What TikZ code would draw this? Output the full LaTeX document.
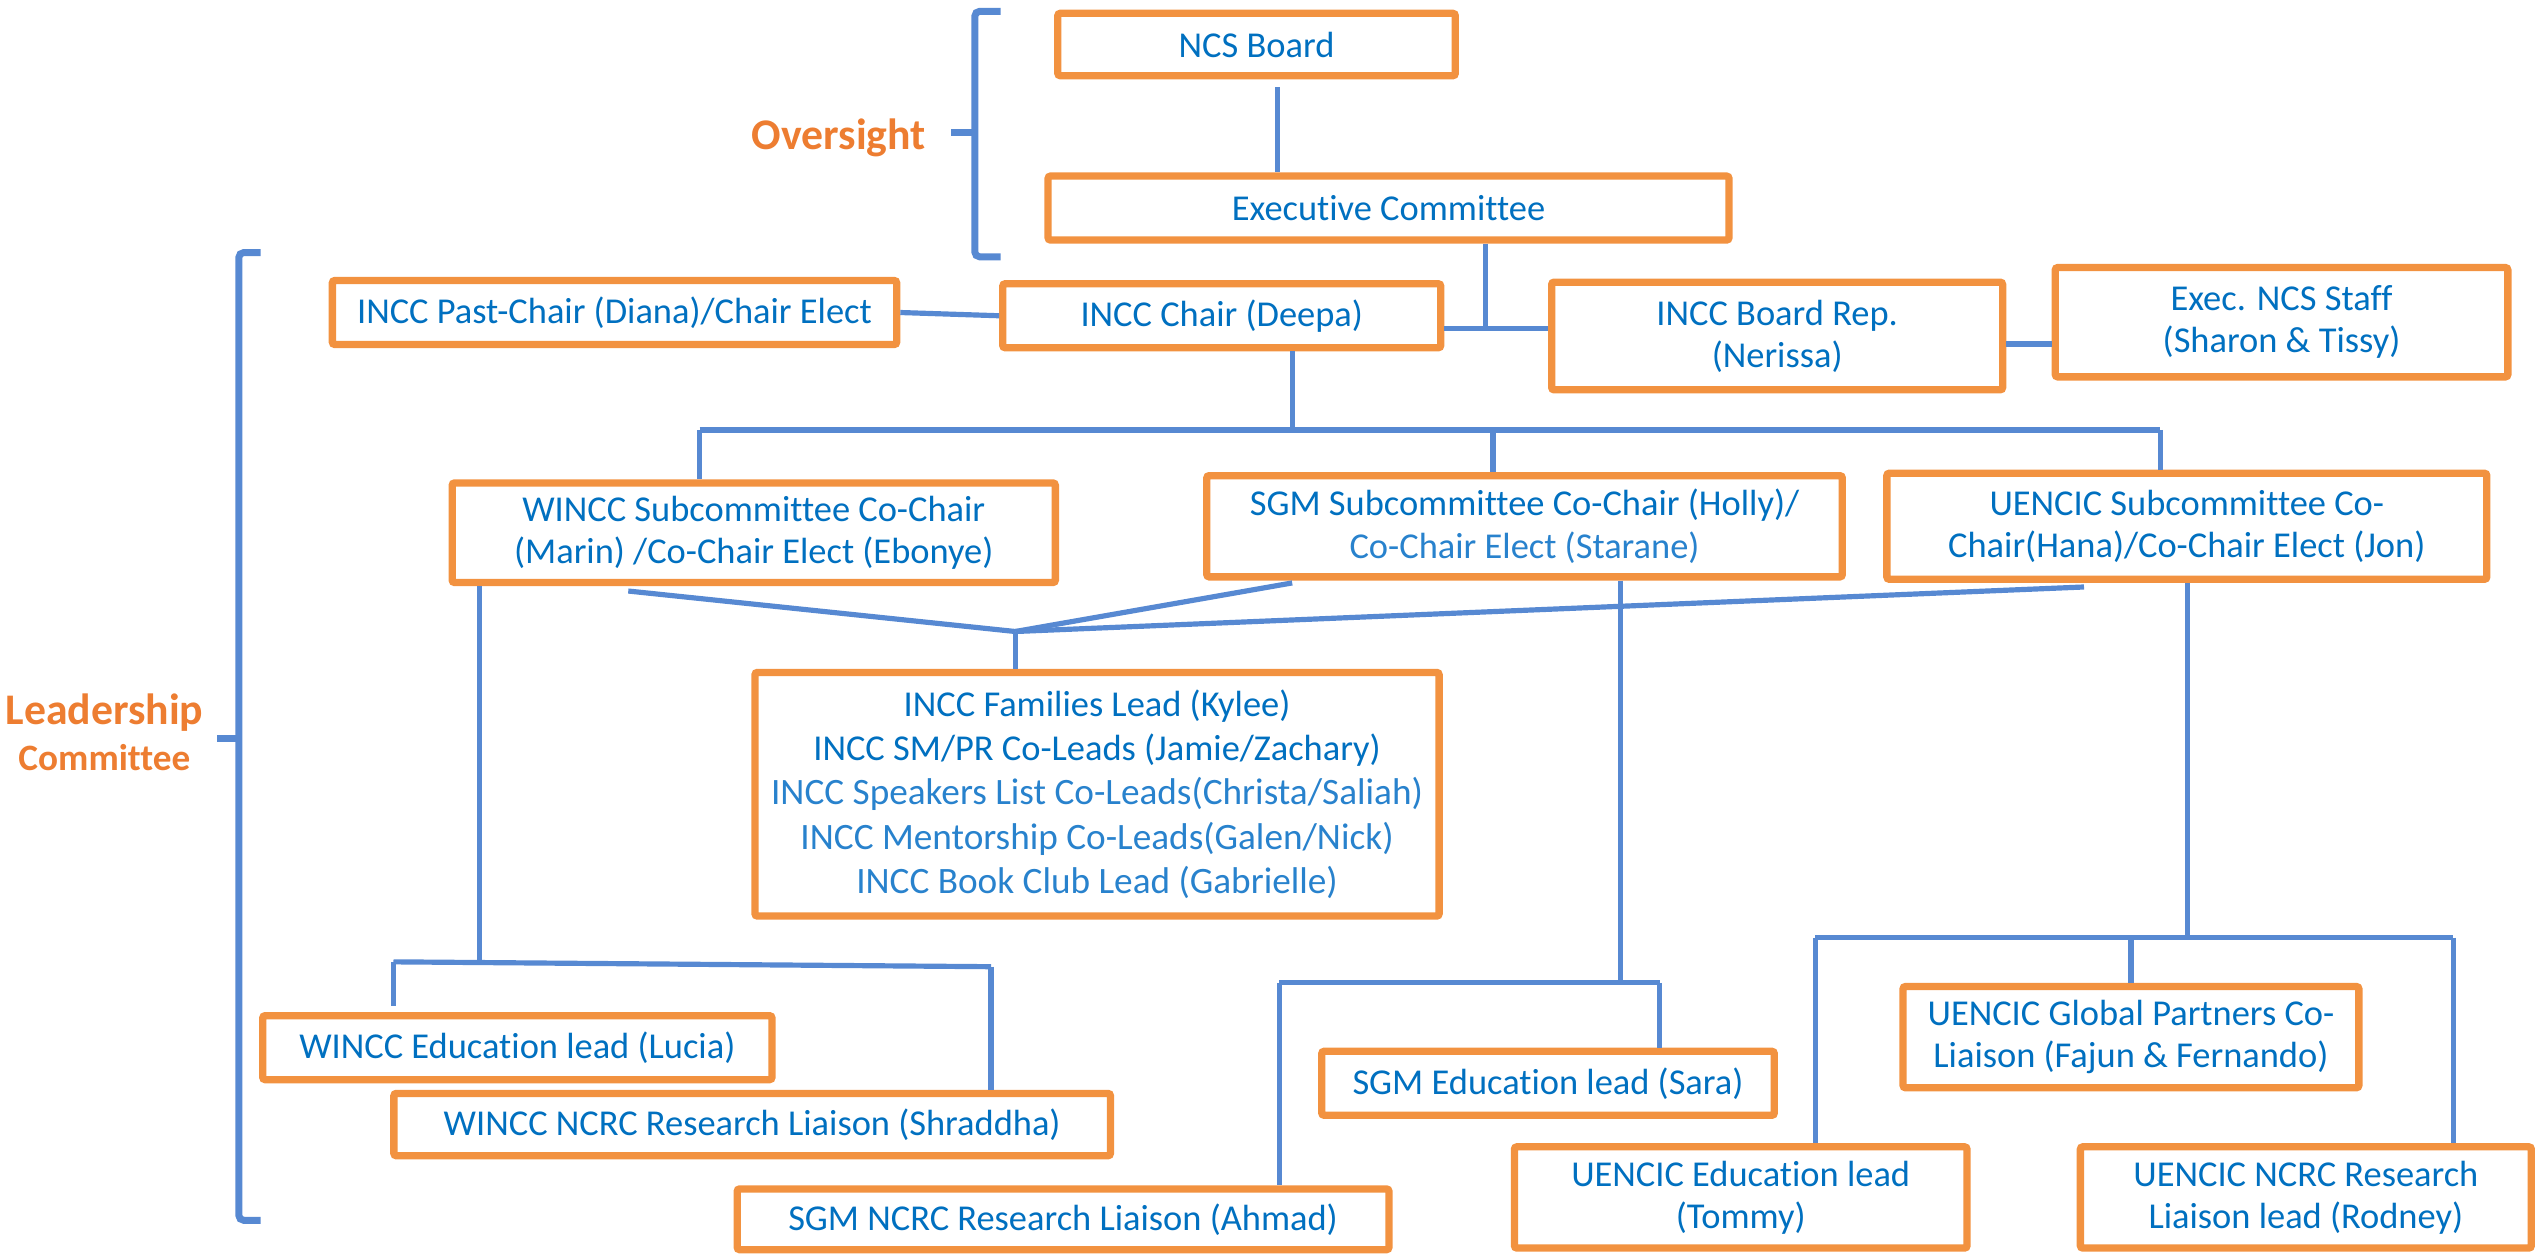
\documentclass[tikz,border=0pt]{standalone}
\usepackage{fontspec}
\setmainfont{Carlito}[Ligatures=NoCommon]
\definecolor{boxorange}{RGB}{242,146,64}
\definecolor{lineblue}{RGB}{87,137,210}
\definecolor{txtblue}{RGB}{0,112,192}
\definecolor{lightblue}{RGB}{40,130,205}
\definecolor{ovorange}{RGB}{237,125,49}
\begin{document}
\begin{tikzpicture}[x=1pt,y=-1pt,
  box/.style={draw=boxorange, line width=4.5pt, fill=white, rounded corners=1.5pt,
    text=txtblue, font=\fontsize{22.5}{26}\selectfont, align=center, inner sep=0pt},
  link/.style={draw=lineblue, line width=3.2pt},
  bracket/.style={draw=lineblue, line width=4.3pt, rounded corners=3pt},
  lab/.style={text=ovorange, font=\bfseries, inner sep=0pt}]
\useasboundingbox (0,0) rectangle (1568,775);

% boxes
\node[box, minimum width=245.5pt, minimum height=38.5pt] (ncs) at (776,27.5) {NCS Board};
\node[box, minimum width=420.5pt, minimum height=39.5pt] (exec) at (857.5,128.5) {Executive Committee};
\node[box, minimum width=348.5pt, minimum height=39.5pt] (past) at (379.5,193) {INCC Past-Chair (Diana)/Chair Elect};
\node[box, minimum width=270.5pt, minimum height=39.5pt] (chair) at (754.5,195) {INCC Chair (Deepa)};
\node[box, minimum width=278.5pt, minimum height=66.5pt] (rep) at (1097.5,207.5) {INCC Board Rep.\\(Nerissa)};
\node[box, minimum width=279.5pt, minimum height=67.5pt] (staff) at (1409,199) {Exec. NCS Staff\\(Sharon \& Tissy)};
\node[box, minimum width=372.5pt, minimum height=61.5pt] (wincc) at (465.5,329) {WINCC Subcommittee Co-Chair\\(Marin) /Co-Chair Elect (Ebonye)};
\node[box, minimum width=392.5pt, minimum height=62.5pt, font=\fontsize{22.5}{27}\selectfont] (sgm) at (941.5,325) {SGM Subcommittee Co-Chair (Holly)/\\\textcolor{lightblue}{Co-Chair Elect (Starane)}};
\node[box, minimum width=370.5pt, minimum height=65.5pt] (uencic) at (1350.5,325) {UENCIC Subcommittee Co-\\Chair(Hana)/Co-Chair Elect (Jon)};
\node[box, minimum width=422.5pt, minimum height=150.5pt, font=\fontsize{22.5}{27.3}\selectfont] (fam) at (677.5,490.5)
  {INCC Families Lead (Kylee)\\INCC SM/PR Co-Leads (Jamie/Zachary)\\
   \textcolor{lightblue}{\fontsize{23}{27.3}\selectfont INCC Speakers List Co-Leads(Christa/Saliah)}\\
   \textcolor{lightblue}{\fontsize{23}{27.3}\selectfont INCC Mentorship Co-Leads(Galen/Nick)}\\
   \textcolor{lightblue}{\fontsize{23}{27.3}\selectfont INCC Book Club Lead (Gabrielle)}};
\node[box, minimum width=314.5pt, minimum height=39.5pt] (lucia) at (319.5,647) {WINCC Education lead (Lucia)};
\node[box, minimum width=442.5pt, minimum height=38.5pt] (shraddha) at (464.5,694.5) {WINCC NCRC Research Liaison (Shraddha)};
\node[box, minimum width=402.5pt, minimum height=37.5pt] (ahmad) at (656.5,753) {SGM NCRC Research Liaison (Ahmad)};
\node[box, minimum width=279.5pt, minimum height=39.5pt] (sara) at (956,669) {SGM Education lead (Sara)};
\node[box, minimum width=279.5pt, minimum height=62.5pt] (tommy) at (1075,739.5) {UENCIC Education lead\\(Tommy)};
\node[box, minimum width=281.5pt, minimum height=62.5pt] (global) at (1316,640.5) {UENCIC Global Partners Co-\\Liaison (Fajun \& Fernando)};
\node[box, minimum width=278.5pt, minimum height=62.5pt] (rodney) at (1424,739.5) {UENCIC NCRC Research\\Liaison lead (Rodney)};

% labels
\node[lab, font=\bfseries\fontsize{27}{30}\selectfont] (ovl) at (518,85) {Oversight};
\node[lab, font=\bfseries\fontsize{27}{30}\selectfont] (ldl) at (64.5,440) {Leadership};
\node[lab, font=\bfseries\fontsize{23}{26}\selectfont] (cml) at (64.5,468) {Committee};

% brackets
\draw[bracket] (618,7) -- (602,7) -- (602,158.6) -- (618,158.6);
\draw[bracket] (602,82) -- (587,82);
\draw[bracket] (161,156) -- (147.5,156) -- (147.5,753.6) -- (161,753.6);
\draw[bracket] (147.5,456) -- (134,456);

% connectors
\draw[link] ([xshift=13pt,yshift=-5pt]ncs.south) -- ([xshift=13pt]ncs.south |- exec.north);
\coordinate (j1) at (917.5,203);
\draw[link] ([xshift=60pt]exec.south) -- (j1);
\draw[link] (chair.east |- j1) -- (rep.west |- j1);
\draw[link] (past.east) -- (chair.west);
\coordinate (rs) at ([yshift=-5pt]rep.east);
\draw[link] (rs) -- (staff.west |- rs);

\coordinate (busL) at (432,265.5);
\coordinate (busR) at (1334,265.5);
\coordinate (busC) at (798,265.5);
\coordinate (busS) at (922,265.5);
\draw[link] (busC |- chair.south) -- (busC);
\draw[link] (busL) -- (busR);
\draw[link] (busL) -- (busL |- wincc.north);
\draw[link] (busS) -- (busS |- sgm.north);
\draw[link] (busR) -- (busR |- uencic.north);

\coordinate (J) at (627,390);
\coordinate (wd) at (388,365);
\coordinate (sd) at (798,360);
\coordinate (ud) at (1287,362.5);
\draw[link] (wd) -- (J);
\draw[link] (sd) -- (J);
\draw[link] (ud) -- (J);
\draw[link] (J) -- (J |- fam.north);

\coordinate (w1) at (296,594);
\coordinate (w2) at (243,594);
\coordinate (w3) at (612,597);
\draw[link] (w1 |- wincc.south) -- (w1);
\draw[link] (w2) -- (w3);
\draw[link] (w2) -- ([yshift=4pt]w2 |- lucia.north);
\draw[link] (w3) -- (w3 |- shraddha.north);

\coordinate (s1) at (1000.6,607);
\coordinate (s2) at (790,607);
\coordinate (s3) at (1025,607);
\draw[link] (s1 |- sgm.south) -- (s1);
\draw[link] (s2) -- (s3);
\draw[link] (s3) -- (s3 |- sara.north);
\draw[link] (s2) -- (s2 |- ahmad.north);

\coordinate (u1) at (1351,579);
\coordinate (u2) at (1121,579);
\coordinate (u3) at (1515,579);
\coordinate (u4) at (1316,579);
\draw[link] (u1 |- uencic.south) -- (u1);
\draw[link] (u2) -- (u3);
\draw[link] (u2) -- (u2 |- tommy.north);
\draw[link] (u4) -- (u4 |- global.north);
\draw[link] (u3) -- (u3 |- rodney.north);
\end{tikzpicture}
\end{document}
